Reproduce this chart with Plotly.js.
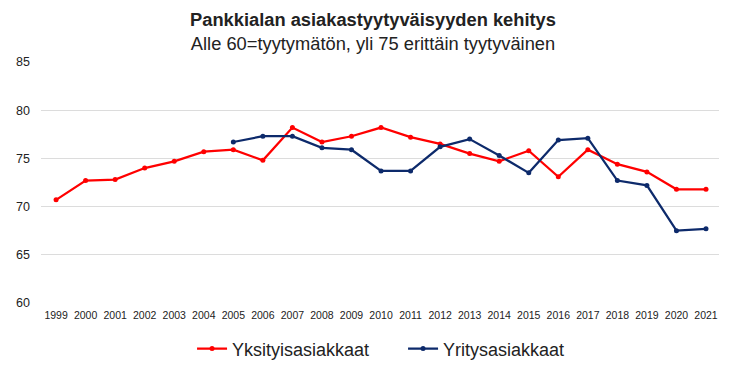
<!DOCTYPE html>
<html><head><meta charset="utf-8">
<script src="https://cdn.plot.ly/plotly-3.0.1.min.js"></script>
<style>body{margin:0;padding:0;background:#fff}#c{width:746px;height:368px}</style>
</head><body><div id="c"></div>
<script>
const years = [1999,2000,2001,2002,2003,2004,2005,2006,2007,2008,2009,2010,2011,2012,2013,2014,2015,2016,2017,2018,2019,2020,2021];
const yksityis = [70.7,72.7,72.8,74.0,74.7,75.7,75.9,74.8,78.2,76.7,77.3,78.2,77.2,76.5,75.5,74.7,75.8,73.1,75.9,74.4,73.6,71.8,71.8];
const yritysYears = [2005,2006,2007,2008,2009,2010,2011,2012,2013,2014,2015,2016,2017,2018,2019,2020,2021];
const yritys = [76.7,77.3,77.3,76.1,75.9,73.7,73.7,76.2,77.0,75.3,73.5,76.9,77.1,72.7,72.2,67.5,67.7];
const yTicks = [60,65,70,75,80,85];

const F = 'Liberation Sans, Arial, sans-serif';
const traces = [
  {x: years, y: yksityis, name: 'Yksityisasiakkaat', mode: 'lines+markers', type: 'scatter',
   line: {color: '#ff0000', width: 2.25}, marker: {color: '#ff0000', size: 5}},
  {x: yritysYears, y: yritys, name: 'Yritysasiakkaat', mode: 'lines+markers', type: 'scatter',
   line: {color: '#0d2a6b', width: 2.25}, marker: {color: '#0d2a6b', size: 5}}
];
const layout = {
  width: 746, height: 368,
  margin: {l: 41, r: 27, t: 62, b: 65, autoexpand: false},
  paper_bgcolor: '#fff', plot_bgcolor: '#fff',
  font: {family: F, color: '#222'},
  title: {text: '<b>Pankkialan asiakastyytyväisyyden kehitys</b><br>Alle 60=tyytymätön, yli 75 erittäin tyytyväinen',
          font: {family: F, size: 18.3, color: '#222'}, x: 0.5, xanchor: 'center',
          yref: 'container', y: 0.93, yanchor: 'top'},
  xaxis: {range: [1998.49, 2021.44], tickmode: 'array', tickvals: years, ticktext: years.map(String),
          showgrid: false, zeroline: false, showline: false, ticks: '', ticklabelstandoff: 4,
          tickfont: {family: F, size: 10.5, color: '#222'}},
  yaxis: {range: [60, 85], tickmode: 'array', tickvals: yTicks, ticktext: yTicks.map(String),
          showgrid: true, gridcolor: '#dcdcdc', gridwidth: 1, zeroline: false, showline: false, ticks: '',
          ticklabelstandoff: 10, tickfont: {family: F, size: 12.5, color: '#222'}},
  showlegend: true,
  legend: {orientation: 'h', x: 0.534, xanchor: 'center', yref: 'container', y: 0.052, yanchor: 'middle',
           font: {family: F, size: 18, color: '#222'}, itemwidth: 30, entrywidth: 166, tracegroupgap: 0}
};
Plotly.newPlot('c', traces, layout, {displayModeBar: false, staticPlot: true});
</script></body></html>
